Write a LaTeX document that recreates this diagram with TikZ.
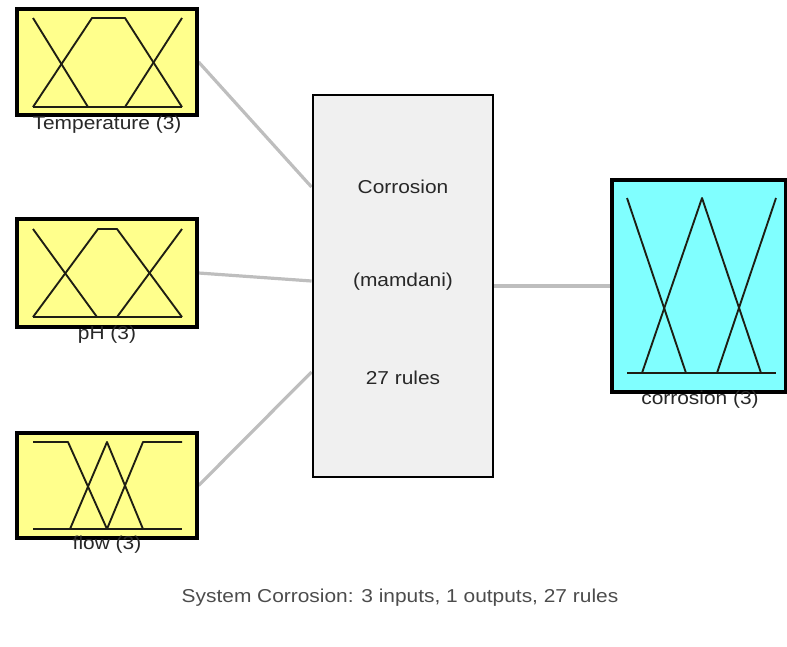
\documentclass[tikz,border=0pt]{standalone}
\usepackage{fontspec}
\setmainfont{Liberation Sans}[FakeStretch=1.12]
\usetikzlibrary{backgrounds}
\definecolor{inyellow}{RGB}{255,255,140}
\definecolor{outcyan}{RGB}{128,255,255}
\definecolor{rulegray}{RGB}{240,240,240}
\definecolor{wiregray}{RGB}{190,190,190}
\definecolor{txtgray}{RGB}{40,40,40}
\definecolor{mfline}{RGB}{30,30,20}
\tikzset{
  fisbox/.style={draw=black, line width=2.4pt, inner sep=0pt, minimum width=135pt},
  inbox/.style={fisbox, fill=inyellow},
  outbox/.style={fisbox, fill=outcyan},
  rulebox/.style={fisbox, fill=rulegray, line width=2.2pt},
  wire/.style={draw=wiregray, line width=2.4pt},
  mf/.style={draw=mfline, line width=1.4pt, line join=round},
  lbl/.style={font=\fontsize{14pt}{16pt}\selectfont, text=txtgray, inner sep=0pt},
}
\begin{document}
\begin{tikzpicture}[x=0.75pt,y=-0.75pt]
\useasboundingbox (0,0) rectangle (787,646);
\node[inbox, minimum height=79.5pt] (in1) at (107,62) {};
\node[inbox, minimum height=81pt] (in2) at (107,273) {};
\node[inbox, minimum height=78.75pt] (in3) at (107,485.5) {};
\node[rulebox, minimum height=286.5pt] (rule) at (403,286) {};
\node[outbox, minimum width=130.5pt, minimum height=159pt] (out) at (699,286) {};
\begin{scope}[on background layer]
\draw[wire] (in1.east) -- ([yshift=74.25pt]rule.west);
\draw[wire] (in2.east) -- ([yshift=3.75pt]rule.west);
\draw[wire] (in3.east) -- ([yshift=-64.5pt]rule.west);
\draw[wire] (rule.east) -- (out.west);
\end{scope}
% membership functions: temperature
\draw[mf] (33,18) -- (88,107);
\draw[mf] (33,107) -- (92,18) -- (125,18) -- (182,107);
\draw[mf] (125,107) -- (182,18);
\draw[mf] (33,107) -- (182,107);
% pH
\draw[mf] (33,229) -- (97,317);
\draw[mf] (33,317) -- (98,229) -- (117,229) -- (182,317);
\draw[mf] (117,317) -- (182,229);
\draw[mf] (33,317) -- (182,317);
% flow
\draw[mf] (33,442) -- (68,442) -- (107,529);
\draw[mf] (70,529) -- (107,442) -- (143,529);
\draw[mf] (107,529) -- (143,442) -- (182,442);
\draw[mf] (33,529) -- (182,529);
% corrosion output
\draw[mf] (627,198) -- (686,373);
\draw[mf] (642,373) -- (702,198) -- (761,373);
\draw[mf] (717,373) -- (776,198);
\draw[mf] (627,373) -- (776,373);
% labels
\node[lbl] (l1) at (107,125) {Temperature (3)};
\node[lbl] (l2) at (107,335) {pH (3)};
\node[lbl] (l3) at (107,545) {flow (3)};
\node[lbl] (l4) at (700,400) {corrosion (3)};
\node[lbl] (t1) at (403,187) {Corrosion};
\node[lbl] (t2) at (403,282) {(mamdani)};
\node[lbl] (t3) at (403,378) {27 rules};
\node[lbl, text=black!70] (cap) at (400,598) {System Corrosion: 3 inputs, 1 outputs, 27 rules};
\end{tikzpicture}
\end{document}
